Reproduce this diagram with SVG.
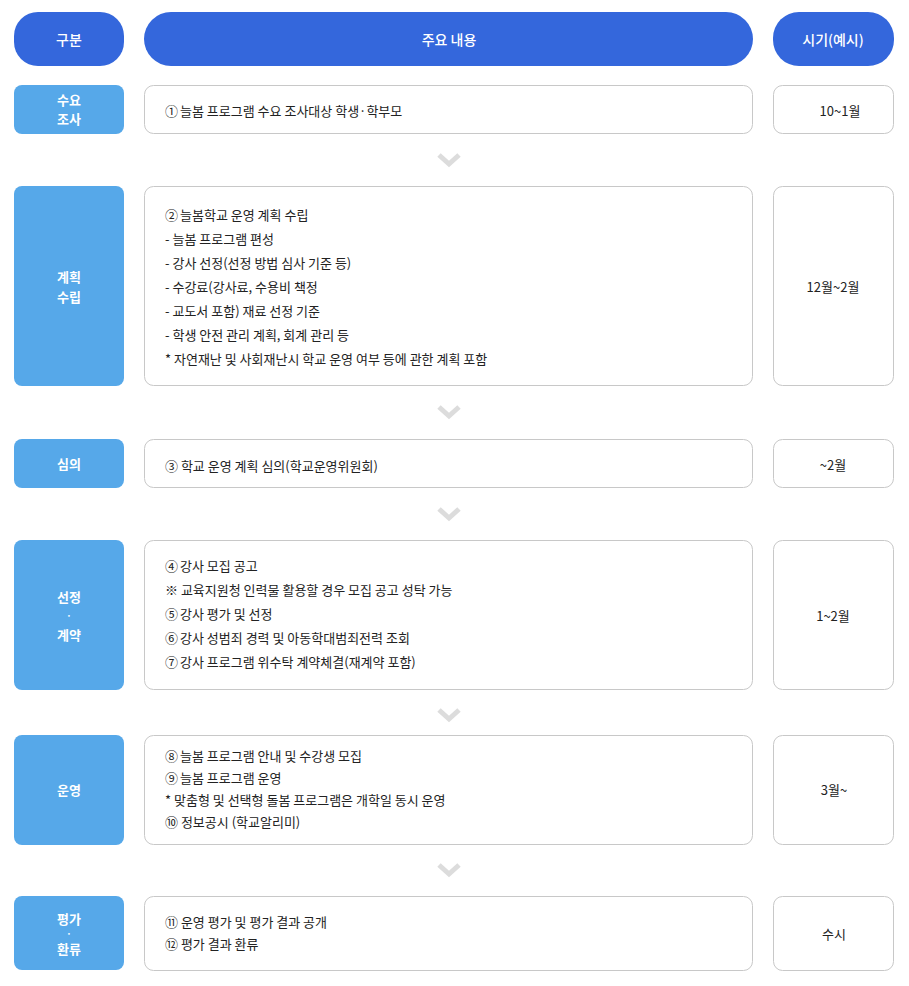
<svg xmlns="http://www.w3.org/2000/svg" width="909" height="986" viewBox="0 0 909 986">
<defs>
<style>
text{font-family:"Noto Sans CJK KR","Noto Sans",sans-serif;}
.hd{fill:#3467DC;}
.hdt{fill:#fff;font-size:14px;font-weight:500;text-anchor:middle;dominant-baseline:central;}
.lb{fill:#56A8E9;}
.lbt{fill:#fff;font-size:13px;font-weight:700;text-anchor:middle;dominant-baseline:central;}
.dot{fill:#fff;font-size:9px;font-weight:700;text-anchor:middle;dominant-baseline:central;}
.bx{fill:#fff;stroke:#c8c8c8;stroke-width:1;}
.ct{fill:#222;font-size:13px;dominant-baseline:central;}
.rt{fill:#222;font-size:13px;text-anchor:middle;dominant-baseline:central;}
.chev{fill:none;stroke:#dcdcdc;stroke-width:5;stroke-linejoin:miter;}
</style>
</defs>
<rect width="909" height="986" fill="#fff"/>
<g id="header">
<rect class="hd" x="14" y="12" width="110" height="54" rx="24"/>
<text class="hdt" x="69" y="39">구분</text>
<rect class="hd" x="144" y="12" width="609" height="54" rx="27"/>
<text class="hdt" x="449" y="39">주요 내용</text>
<rect class="hd" x="773" y="12" width="121" height="54" rx="26"/>
<text class="hdt" x="833" y="39">시기(예시)</text>
</g>
<g id="row1">
<rect class="lb" x="14" y="85" width="110" height="49" rx="8"/>
<text class="lbt" x="69" y="99">수요</text>
<text class="lbt" x="69" y="118">조사</text>
<rect class="bx" x="144.5" y="85.5" width="608" height="48" rx="9"/>
<text class="ct" x="165" y="110">①<tspan dx="2">늘봄 프로그램 수요 조사대상 학생·학부모</tspan></text>
<rect class="bx" x="773.5" y="85.5" width="120" height="48" rx="9"/>
<text class="rt" x="840" y="110">10~1월</text>
</g>
<g id="row2">
<rect class="lb" x="14" y="186" width="110" height="200" rx="8"/>
<text class="lbt" x="69" y="276">계획</text>
<text class="lbt" x="69" y="296">수립</text>
<rect class="bx" x="144.5" y="186.5" width="608" height="199" rx="9"/>
<text class="ct" x="165" y="214">②<tspan dx="2">늘봄학교 운영 계획 수립</tspan></text>
<text class="ct" x="165" y="238">- 늘봄 프로그램 편성</text>
<text class="ct" x="165" y="262">- 강사 선정(선정 방법 심사 기준 등)</text>
<text class="ct" x="165" y="286">- 수강료(강사료, 수용비 책정</text>
<text class="ct" x="165" y="310">- 교도서 포함) 재료 선정 기준</text>
<text class="ct" x="165" y="334">- 학생 안전 관리 계획, 회계 관리 등</text>
<text class="ct" x="165" y="358">* 자연재난 및 사회재난시 학교 운영 여부 등에 관한 계획 포함</text>
<rect class="bx" x="773.5" y="186.5" width="120" height="199" rx="9"/>
<text class="rt" x="833" y="286">12월~2월</text>
</g>
<g id="row3">
<rect class="lb" x="14" y="439" width="110" height="49" rx="8"/>
<text class="lbt" x="69" y="463">심의</text>
<rect class="bx" x="144.5" y="439.5" width="608" height="48" rx="9"/>
<text class="ct" x="165" y="465">③ 학교 운영 계획 심의(학교운영위원회)</text>
<rect class="bx" x="773.5" y="439.5" width="120" height="48" rx="9"/>
<text class="rt" x="833" y="464">~2월</text>
</g>
<g id="row4">
<rect class="lb" x="14" y="540" width="110" height="150" rx="8"/>
<text class="lbt" x="69" y="596">선정</text>
<text class="dot" x="69" y="615">·</text>
<text class="lbt" x="69" y="634">계약</text>
<rect class="bx" x="144.5" y="540.5" width="608" height="149" rx="9"/>
<text class="ct" x="165" y="565">④<tspan dx="2">강사 모집 공고</tspan></text>
<text class="ct" x="165" y="589">※ 교육지원청 인력물 활용할 경우 모집 공고 성탁 가능</text>
<text class="ct" x="165" y="613">⑤<tspan dx="2">강사 평가 및 선정</tspan></text>
<text class="ct" x="165" y="637">⑥<tspan dx="2">강사 성범죄 경력 및 아동학대범죄전력 조회</tspan></text>
<text class="ct" x="165" y="661">⑦<tspan dx="2">강사 프로그램 위수탁 계약체결(재계약 포함)</tspan></text>
<rect class="bx" x="773.5" y="540.5" width="120" height="149" rx="9"/>
<text class="rt" x="833" y="615">1~2월</text>
</g>
<g id="row5">
<rect class="lb" x="14" y="735" width="110" height="110" rx="8"/>
<text class="lbt" x="69" y="789">운영</text>
<rect class="bx" x="144.5" y="735.5" width="608" height="109" rx="9"/>
<text class="ct" x="165" y="755">⑧<tspan dx="2">늘봄 프로그램 안내 및 수강생 모집</tspan></text>
<text class="ct" x="165" y="777">⑨<tspan dx="2">늘봄 프로그램 운영</tspan></text>
<text class="ct" x="165" y="799">* 맞춤형 및 선택형 돌봄 프로그램은 개학일 동시 운영</text>
<text class="ct" x="165" y="821">⑩ 정보공시 (학교알리미)</text>
<rect class="bx" x="773.5" y="735.5" width="120" height="109" rx="9"/>
<text class="rt" x="834" y="789">3월~</text>
</g>
<g id="row6">
<rect class="lb" x="14" y="896" width="110" height="74" rx="8"/>
<text class="lbt" x="69" y="918">평가</text>
<text class="dot" x="69" y="933">·</text>
<text class="lbt" x="69" y="948">환류</text>
<rect class="bx" x="144.5" y="896.5" width="608" height="74" rx="9"/>
<text class="ct" x="165" y="921">⑪ 운영 평가 및 평가 결과 공개</text>
<text class="ct" x="165" y="943">⑫ 평가 결과 환류</text>
<rect class="bx" x="773.5" y="896.5" width="120" height="74" rx="9"/>
<text class="rt" x="834" y="933">수시</text>
</g>
<g id="connectors">
<polyline class="chev" points="439,155 449,164 459,155"/>
<polyline class="chev" points="439,407 449,416 459,407"/>
<polyline class="chev" points="439,509 449,518 459,509"/>
<polyline class="chev" points="439,710 449,719 459,710"/>
<polyline class="chev" points="439,865 449,874 459,865"/>
</g>
</svg>
